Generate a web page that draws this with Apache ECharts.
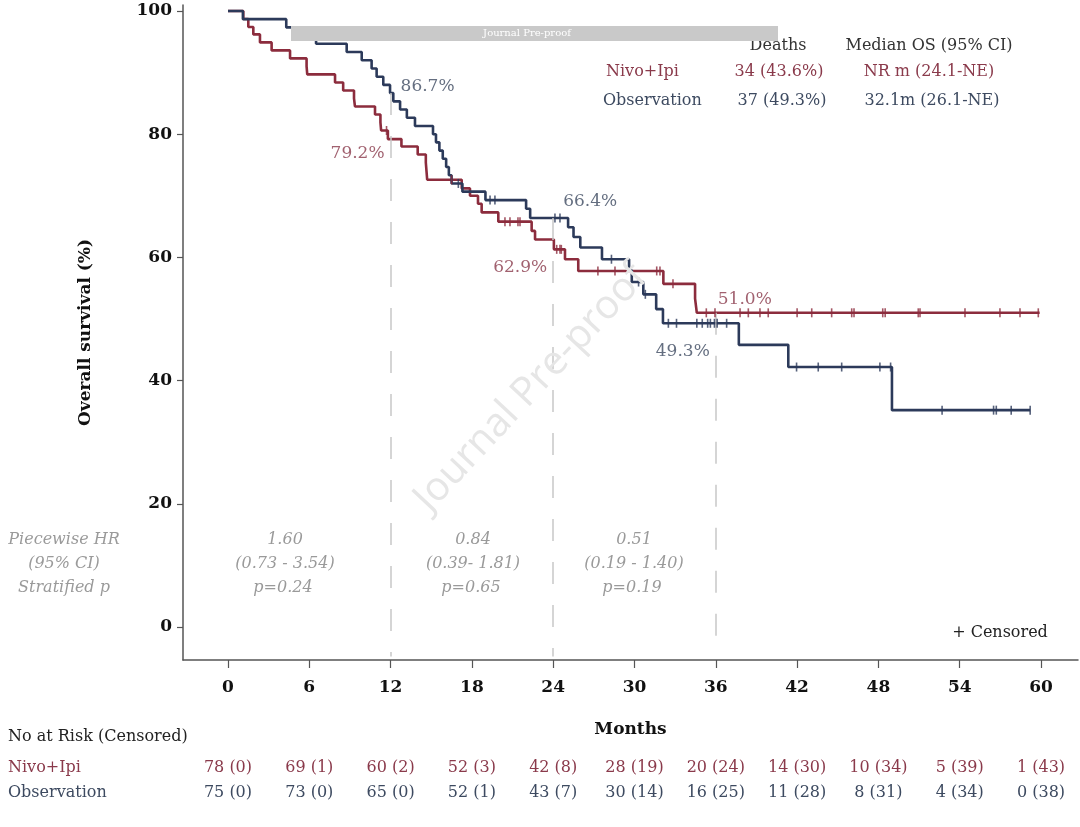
<!DOCTYPE html>
<html><head><meta charset="utf-8">
<script src="https://cdn.jsdelivr.net/npm/echarts@6/dist/echarts.min.js"></script>
<style>html,body{margin:0;padding:0;background:#fff}#c{width:1080px;height:827px}</style>
</head><body><div id="c"></div>
<script>
// ---------------- data ----------------
const xTicks = [0, 6, 12, 18, 24, 30, 36, 42, 48, 54, 60];
const yTicks = [0, 20, 40, 60, 80, 100];

const nivoTimes = [0, 1.13, 1.5, 1.87, 2.36, 3.22, 4.58, 5.8, 5.85, 7.9, 8.5, 9.3, 9.37, 10.85, 11.25, 11.3, 11.8,
  12.8, 14.0, 14.6, 14.65, 14.7, 17.25, 17.86, 18.45, 18.72, 19.95, 22.41, 22.66, 24.05, 24.87, 25.85,
  32.13, 34.47, 34.6, 59.9];
const nivoSurv = [100, 98.7, 97.4, 96.2, 94.9, 93.6, 92.3, 91.0, 89.7, 88.4, 87.1, 85.8, 84.5, 83.2, 81.9, 80.6, 79.2,
  78.0, 76.7, 75.4, 74.0, 72.6, 71.2, 70.0, 68.7, 67.3, 65.8, 64.3, 62.9, 61.3, 59.7, 57.8,
  55.7, 53.3, 51.0, 51.0];

const obsTimes = [0, 1.1, 4.3, 6.1, 6.5, 8.76, 9.87, 10.6, 10.97, 11.46, 11.96, 12.2, 12.7, 13.2, 13.8,
  15.13, 15.35, 15.6, 15.85, 16.1, 16.3, 16.5, 17.3, 19.0, 22.0, 22.3, 25.1, 25.5, 26.0, 27.6, 29.6, 29.8,
  30.65, 31.6, 32.1, 37.7, 41.35, 49.0, 59.2];
const obsSurv = [100, 98.67, 97.33, 96.0, 94.67, 93.33, 92.0, 90.67, 89.33, 88.0, 86.67, 85.33, 84.0, 82.67, 81.33,
  80.0, 78.67, 77.33, 76.0, 74.67, 73.33, 72.0, 70.67, 69.3, 67.9, 66.4, 64.9, 63.3, 61.6, 59.7, 57.9, 56.0,
  54.0, 51.6, 49.3, 45.8, 42.2, 35.2, 35.2];

const nivoCensorTimes = [11.7, 16.5, 20.44, 20.81, 21.4, 21.55, 24.26, 24.5, 24.6, 27.3, 28.56, 31.64, 31.88, 32.84,
  35.3, 35.94, 37.79, 38.4, 39.26, 39.87, 42.0, 43.08, 44.55, 46.03, 46.2, 48.32, 48.5, 50.94, 51.07,
  54.39, 56.97, 58.45, 59.8];
const obsCensorTimes = [17.0, 19.34, 19.7, 24.13, 24.5, 28.3, 30.3, 30.8, 32.5, 33.1, 34.6, 35.0, 35.4, 35.6, 35.9,
  36.1, 36.8, 41.96, 43.56, 45.29, 48.11, 48.9, 52.7, 56.5, 56.7, 57.8, 59.2];

const landmarkTimes = [12, 24, 36];
const nivoLandmark = [79.2, 62.9, 51.0];
const obsLandmark = [86.7, 66.4, 49.3];

const nivoAtRisk = [78, 69, 60, 52, 42, 28, 20, 14, 10, 5, 1];
const nivoCensored = [0, 1, 2, 3, 8, 19, 24, 30, 34, 39, 43];
const obsAtRisk = [75, 73, 65, 52, 43, 30, 16, 11, 8, 4, 0];
const obsCensored = [0, 0, 0, 1, 7, 14, 25, 28, 31, 34, 38];

const hrValues = ['1.60', '0.84', '0.51'];
const hrCI = ['(0.73 - 3.54)', '(0.39- 1.81)', '(0.19 - 1.40)'];
const hrP = ['p=0.24', 'p=0.65', 'p=0.19'];
const hrRowLabels = ['Piecewise HR', '(95% CI)', 'Stratified p'];

const summaryHeader = ['Deaths', 'Median OS (95% CI)'];
const nivoSummary = ['Nivo+Ipi', '34 (43.6%)', 'NR m (24.1-NE)'];
const obsSummary = ['Observation', '37 (49.3%)', '32.1m (26.1-NE)'];

// ---------------- styles ----------------
const RED = '#8c2c3d', BLUE = '#2c3a5a';
const RED_T = '#8a3a4b', BLUE_T = '#3d4a60';
const SERIF = '"DejaVu Serif", "Liberation Serif", serif';
const AX = '#555';
const FS = 16;

function survAt(times, surv, t) {
  let v = surv[0];
  for (let i = 0; i < times.length; i++) if (times[i] <= t) v = surv[i];
  return v;
}
const pairs = (ts, vs) => ts.map((t, i) => [t, vs[i]]);

const chart = echarts.init(document.getElementById('c'), null, {renderer: 'canvas'});

const nivoLabelOffsets = [[-33, 14], [-33, 28], [29, -13]];
const obsLabelOffsets = [[37, -6], [37, -16], [-33, 28]];

const option = {
  animation: false,
  backgroundColor: '#fff',
  grid: {left: 183, right: 2, top: 5, bottom: 167, containLabel: false, outerBoundsMode: 'none'},
  xAxis: {
    type: 'value', min: -3.32, max: 62.73,
    name: 'Months', nameLocation: 'middle', nameGap: 61,
    nameTextStyle: {fontFamily: SERIF, fontWeight: 'bold', fontSize: 17, color: '#111'},
    axisLine: {show: true, onZero: false, lineStyle: {color: AX, width: 1.5}},
    axisTick: {show: true, length: 8, lineStyle: {color: AX, width: 1.2}, customValues: xTicks},
    axisLabel: {customValues: xTicks, margin: 19, fontFamily: SERIF, fontWeight: 'bold', fontSize: 17, color: '#111'},
    splitLine: {show: false}
  },
  yAxis: {
    type: 'value', min: -5.36, max: 100.97,
    name: 'Overall survival (%)', nameLocation: 'middle', nameGap: 89, nameRotate: 90,
    nameTextStyle: {fontFamily: SERIF, fontWeight: 'bold', fontSize: 17, color: '#111'},
    axisLine: {show: true, onZero: false, lineStyle: {color: AX, width: 1.5}},
    axisTick: {show: true, length: 6, lineStyle: {color: AX, width: 1.2}, customValues: yTicks},
    axisLabel: {customValues: yTicks, margin: 11, fontFamily: SERIF, fontWeight: 'bold', fontSize: 17, color: '#111'},
    splitLine: {show: false}
  },
  series: [
    {
      name: 'Nivo+Ipi', type: 'line', step: 'end', showSymbol: false, symbol: 'none', z: 3,
      data: pairs(nivoTimes, nivoSurv),
      lineStyle: {color: RED, width: 2.6},
      markLine: {
        silent: true, symbol: 'none', animation: false,
        lineStyle: {color: '#c8c8c8', type: [22, 21], width: 1.5},
        label: {show: false},
        data: landmarkTimes.map((t, i) => [
          {coord: [t, Math.max(nivoLandmark[i], obsLandmark[i])]},
          {coord: [t, -4.8]}
        ])
      }
    },
    {
      name: 'Observation', type: 'line', step: 'end', showSymbol: false, symbol: 'none', z: 4,
      data: pairs(obsTimes, obsSurv),
      lineStyle: {color: BLUE, width: 2.6}
    },
    {
      type: 'scatter', symbol: 'rect', symbolSize: [1.6, 9], z: 5, silent: true,
      itemStyle: {color: RED},
      data: nivoCensorTimes.map(t => [t, survAt(nivoTimes, nivoSurv, t)])
    },
    {
      type: 'scatter', symbol: 'rect', symbolSize: [1.6, 9], z: 6, silent: true,
      itemStyle: {color: BLUE},
      data: obsCensorTimes.map(t => [t, survAt(obsTimes, obsSurv, t)])
    },
    {
      type: 'scatter', symbolSize: 0, z: 7, silent: true,
      data: landmarkTimes.map((t, i) => ({
        value: [t, nivoLandmark[i]],
        label: {offset: nivoLabelOffsets[i]}
      })),
      label: {show: true, position: 'inside', formatter: p => p.value[1].toFixed(1) + '%',
        fontFamily: SERIF, fontSize: 17, color: RED_T}
    },
    {
      type: 'scatter', symbolSize: 0, z: 7, silent: true,
      data: landmarkTimes.map((t, i) => ({
        value: [t, obsLandmark[i]],
        label: {offset: obsLabelOffsets[i]}
      })),
      label: {show: true, position: 'inside', formatter: p => p.value[1].toFixed(1) + '%',
        fontFamily: SERIF, fontSize: 17, color: BLUE_T}
    }
  ]
};
chart.setOption(option);

// ---------------- annotations ----------------
function txt(text, x, y, opts) {
  opts = opts || {};
  return {
    type: 'text', z: opts.z || 10, silent: true, rotation: opts.rotation || 0,
    x: x, y: y + (opts.dy === undefined ? 2 : opts.dy),
    style: {
      text: text, x: 0, y: 0,
      font: (opts.italic ? 'italic ' : '') + (opts.bold ? 'bold ' : '') + (opts.size || FS) + 'px ' + (opts.family || SERIF),
      fill: opts.color || '#222',
      textAlign: opts.align || 'center', textVerticalAlign: 'middle'
    }
  };
}
const g = [];
// watermark
g.push(txt('Journal Pre-proof', 531, 388, {family: '"Open Sans", sans-serif', size: 40, color: '#e6e6e6', rotation: 0.82, z: 0, dy: 0}));
// top grey bar
g.push({type: 'rect', z: 100, silent: true, shape: {x: 291, y: 26, width: 487, height: 15}, style: {fill: '#c9c9c9'}});
g.push(txt('Journal Pre-proof', 527, 33.5, {size: 10, color: '#fff', z: 101, dy: 0}));
// summary table
g.push(txt(summaryHeader[0], 778, 44, {color: '#333'}));
g.push(txt(summaryHeader[1], 929, 44, {color: '#333'}));
g.push(txt(nivoSummary[0], 606, 70, {color: RED_T, align: 'left'}));
g.push(txt(nivoSummary[1], 779, 70, {color: RED_T}));
g.push(txt(nivoSummary[2], 929, 70, {color: RED_T}));
g.push(txt(obsSummary[0], 603, 99, {color: BLUE_T, align: 'left'}));
g.push(txt(obsSummary[1], 782, 99, {color: BLUE_T}));
g.push(txt(obsSummary[2], 932, 99, {color: BLUE_T}));
// piecewise HR
const hrY = [538, 562, 586];
hrRowLabels.forEach((s, i) => g.push(txt(s, 64, hrY[i], {italic: true, color: '#9a9a9a'})));
const hrX = [285, 473, 634];
hrX.forEach((x, i) => {
  g.push(txt(hrValues[i], x, hrY[0], {italic: true, color: '#9a9a9a'}));
  g.push(txt(hrCI[i], x, hrY[1], {italic: true, color: '#9a9a9a'}));
  g.push(txt(hrP[i], x - 2, hrY[2], {italic: true, color: '#9a9a9a'}));
});
// censored legend
g.push(txt('+ Censored', 1000, 631, {color: '#222'}));
// risk table
g.push(txt('No at Risk (Censored)', 8, 735, {color: '#222', align: 'left'}));
g.push(txt(nivoSummary[0], 8, 766, {color: RED_T, align: 'left'}));
g.push(txt(obsSummary[0], 8, 791, {color: BLUE_T, align: 'left'}));
xTicks.forEach((t, i) => {
  const px = chart.convertToPixel({xAxisIndex: 0}, t);
  g.push(txt(nivoAtRisk[i] + ' (' + nivoCensored[i] + ')', px, 766, {color: RED_T}));
  g.push(txt(obsAtRisk[i] + ' (' + obsCensored[i] + ')', px, 791, {color: BLUE_T}));
});
chart.setOption({graphic: {elements: g}});
</script></body></html>
